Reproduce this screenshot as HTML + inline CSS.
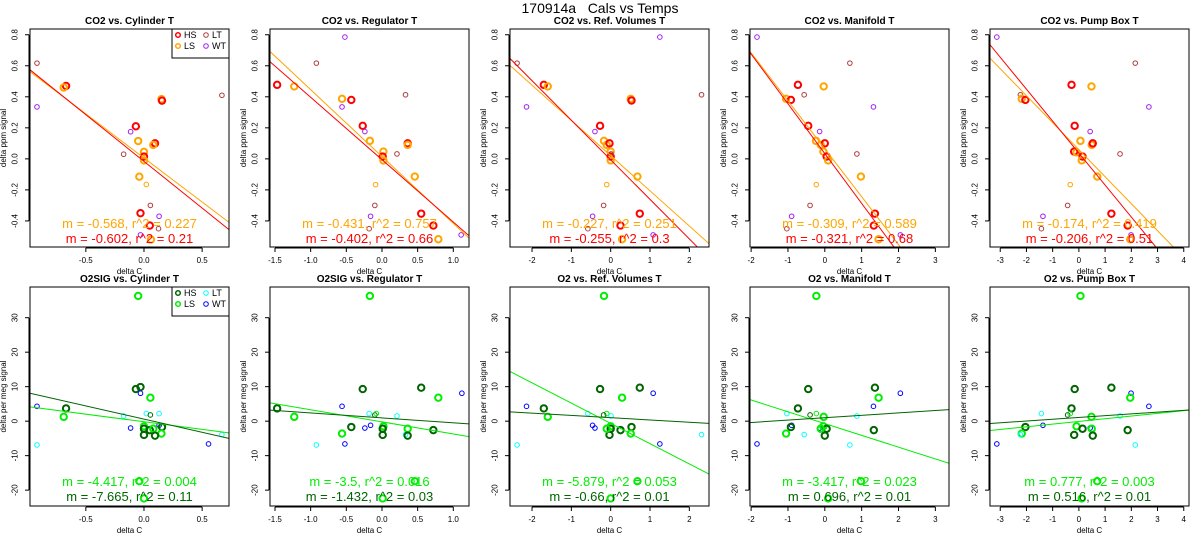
<!DOCTYPE html>
<html><head><meta charset="utf-8"><style>
html,body{margin:0;padding:0;background:#fff;}
svg{display:block;font-family:"Liberation Sans",sans-serif;}
</style></head><body>
<svg id="fig" width="1200" height="550" viewBox="0 0 1200 550">
<text x="600" y="13" text-anchor="middle" font-size="14" style="white-space:pre">170914a   Cals vs Temps</text>
</svg>
<script>
// ---- data ----
const topTitles = ["CO2 vs. Cylinder T","CO2 vs. Regulator T","CO2 vs. Ref. Volumes T","CO2 vs. Manifold T","CO2 vs. Pump Box T"];
const botTitles = ["O2SIG vs. Cylinder T","O2SIG vs. Regulator T","O2 vs. Ref. Volumes T","O2 vs. Manifold T","O2 vs. Pump Box T"];
const xRanges = [[-0.98,0.731],[-1.57,1.22],[-2.56,2.50],[-2.03,3.37],[-3.39,4.2]];
const xTicks = [[-0.5,0,0.5],[-1.5,-1,-0.5,0,0.5,1],[-2,-1,0,1,2],[-2,-1,0,1,2,3],[-3,-2,-1,0,1,2,3,4]];
const xTickLabels = [["-0.5","0.0","0.5"],["-1.5","-1.0","-0.5","0.0","0.5","1.0"],["-2","-1","0","1","2"],["-2","-1","0","1","2","3"],["-3","-2","-1","0","1","2","3","4"]];
const yRangeTop = [-0.568,0.837];
const yRangeBot = [-24.6,38.9];
const yTicksTop = [-0.4,-0.2,0,0.2,0.4,0.6,0.8];
const yTickLabelsTop = ["-0.4","-0.2","0.0","0.2","0.4","0.6","0.8"];
const yTicksBot = [-20,-10,0,10,20,30];
const yTickLabelsBot = ["-20","-10","0","10","20","30"];
// points: [x, y, group]; lowercase = thin marker
const co2Points = [
 [[-0.92,0.617,"LT"],[-0.67,0.47,"HS"],[-0.69,0.46,"LS"],[-0.92,0.335,"WT"],[0.67,0.41,"LT"],[0.15,0.385,"LS"],[0.155,0.375,"HS"],[-0.07,0.21,"HS"],[-0.115,0.175,"WT"],[-0.05,0.115,"LS"],[0.095,0.10,"HS"],[0.08,0.09,"LS"],[0,0.045,"LS"],[0,0.015,"HS"],[0,-0.01,"LS"],[-0.175,0.03,"LT"],[-0.04,-0.115,"LS"],[0.02,-0.165,"ls"],[0.055,-0.30,"LT"],[-0.03,-0.35,"HS"],[0.13,-0.37,"WT"],[0.05,-0.43,"HS"],[0.125,-0.45,"LT"],[-0.03,-0.49,"WT"],[0.06,-0.52,"LS"]],
 [[-0.52,0.785,"WT"],[-0.92,0.617,"LT"],[-1.47,0.477,"HS"],[-1.23,0.467,"LS"],[0.33,0.413,"LT"],[-0.56,0.387,"LS"],[-0.43,0.38,"HS"],[-0.56,0.335,"WT"],[-0.27,0.213,"HS"],[-0.24,0.176,"WT"],[-0.17,0.116,"LS"],[0.36,0.10,"HS"],[0.36,0.09,"LS"],[0.21,0.032,"LT"],[0.02,0.047,"LS"],[0.01,0.015,"HS"],[0.02,-0.01,"LS"],[0.46,-0.114,"LS"],[-0.09,-0.166,"ls"],[-0.1,-0.30,"LT"],[0.55,-0.353,"HS"],[-0.16,-0.37,"WT"],[0.72,-0.43,"HS"],[-0.18,-0.45,"LT"],[1.11,-0.49,"WT"],[0.79,-0.518,"LS"]],
 [[-2.38,0.617,"LT"],[1.25,0.785,"WT"],[-1.70,0.477,"HS"],[-1.6,0.467,"LS"],[-2.14,0.335,"WT"],[2.31,0.413,"LT"],[0.51,0.387,"LS"],[0.53,0.376,"HS"],[-0.27,0.213,"HS"],[-0.4,0.176,"WT"],[-0.17,0.116,"LS"],[-0.1,0.09,"LS"],[-0.03,0.10,"HS"],[0,0.047,"LS"],[0,0.015,"HS"],[0,-0.01,"LS"],[0.01,0.032,"LT"],[0.68,-0.114,"LS"],[-0.1,-0.166,"ls"],[-0.18,-0.30,"LT"],[0.74,-0.353,"HS"],[-0.46,-0.37,"WT"],[0.25,-0.43,"HS"],[-0.58,-0.45,"LT"],[1.08,-0.49,"WT"],[0.29,-0.518,"LS"]],
 [[-1.84,0.785,"WT"],[0.68,0.617,"LT"],[-0.73,0.477,"HS"],[-0.03,0.467,"LS"],[-0.56,0.413,"LT"],[-1.05,0.387,"LS"],[-0.92,0.38,"HS"],[1.32,0.335,"WT"],[-0.45,0.213,"HS"],[-0.14,0.176,"WT"],[-0.24,0.116,"LS"],[-0.11,0.09,"LS"],[0,0.10,"HS"],[-0.04,0.047,"LS"],[0.05,0.015,"HS"],[0.09,-0.01,"LS"],[0.87,0.032,"LT"],[0.98,-0.114,"LS"],[-0.23,-0.166,"ls"],[-0.4,-0.30,"LT"],[1.36,-0.353,"HS"],[-0.9,-0.37,"WT"],[1.33,-0.43,"HS"],[-1.03,-0.45,"LT"],[2.05,-0.49,"WT"],[1.46,-0.518,"LS"]],
 [[-3.13,0.785,"WT"],[2.15,0.617,"LT"],[-0.28,0.477,"HS"],[0.48,0.467,"LS"],[-2.23,0.413,"LT"],[-2.18,0.387,"LS"],[-2.04,0.38,"HS"],[2.67,0.335,"WT"],[-0.16,0.213,"HS"],[0.43,0.176,"WT"],[0.06,0.116,"LS"],[0.49,0.09,"LS"],[0.53,0.10,"HS"],[-0.18,0.047,"HS"],[-0.09,0.042,"LS"],[0.14,0.015,"HS"],[0.11,-0.01,"LS"],[1.57,0.032,"LT"],[0.7,-0.114,"LS"],[-0.33,-0.166,"ls"],[-0.43,-0.30,"LT"],[1.24,-0.353,"HS"],[-1.37,-0.37,"WT"],[1.86,-0.43,"HS"],[-1.43,-0.45,"LT"],[1.99,-0.49,"WT"],[1.96,-0.518,"LS"]]
];
const o2Points = [
 [[-0.05,36.3,"LS"],[-0.03,9.9,"HS"],[-0.07,9.3,"HS"],[-0.03,8.1,"WT"],[0.055,6.8,"LS"],[-0.92,4.3,"WT"],[-0.67,3.7,"HS"],[-0.69,1.25,"LS"],[-0.175,1.5,"LT"],[0.02,2.2,"LT"],[0.055,1.8,"hs"],[0.13,2.2,"LT"],[-0.115,-2.0,"WT"],[0.13,-1.2,"WT"],[0.155,-1.7,"HS"],[0.15,-3.6,"LS"],[0,-1.5,"LS"],[0,-2.2,"HS"],[0,-4.0,"HS"],[0.05,-2.6,"HS"],[0.08,-2.2,"LS"],[0.095,-4.2,"HS"],[-0.92,-6.9,"LT"],[0.555,-6.6,"WT"],[0.67,-3.9,"LT"],[-0.04,-17.4,"LS"],[0,-22.4,"LS"]],
 [[-0.17,36.3,"LS"],[-0.27,9.3,"HS"],[0.55,9.7,"HS"],[1.12,8.1,"WT"],[0.79,6.8,"LS"],[-0.56,4.3,"WT"],[-1.47,3.7,"HS"],[-1.23,1.25,"LS"],[-0.18,2.2,"LT"],[-0.1,1.8,"hs"],[-0.08,2.2,"ls"],[0.21,1.5,"LT"],[-0.43,-1.7,"HS"],[-0.24,-2.0,"WT"],[-0.16,-1.2,"WT"],[-0.56,-3.6,"LS"],[0.02,-1.5,"LS"],[0.01,-2.2,"HS"],[0.01,-4.0,"HS"],[0.36,-2.2,"LS"],[0.33,-3.9,"LT"],[0.36,-4.2,"HS"],[0.72,-2.6,"HS"],[-0.52,-6.6,"WT"],[-0.92,-6.9,"LT"],[0.46,-17.4,"LS"],[0.01,-22.4,"LS"]],
 [[-0.17,36.3,"LS"],[-0.27,9.3,"HS"],[0.74,9.7,"HS"],[1.08,8.1,"WT"],[0.29,6.8,"LS"],[-2.14,4.3,"WT"],[-1.7,3.7,"HS"],[-1.6,1.25,"LS"],[-0.58,2.2,"LT"],[-0.1,2.2,"ls"],[-0.18,1.8,"hs"],[0.01,1.5,"LT"],[-0.46,-1.2,"WT"],[-0.4,-2.0,"WT"],[0,-1.5,"LS"],[0,-2.2,"HS"],[-0.03,-4.0,"HS"],[-0.1,-2.2,"LS"],[0.25,-2.6,"HS"],[0.53,-1.7,"HS"],[0.51,-3.6,"LS"],[2.31,-3.9,"LT"],[1.25,-6.6,"WT"],[-2.38,-6.9,"LT"],[0.68,-17.4,"LS"],[0,-22.4,"LS"]],
 [[-0.23,36.3,"LS"],[-0.45,9.3,"HS"],[1.36,9.7,"HS"],[2.05,8.1,"WT"],[1.46,6.8,"LS"],[1.32,4.3,"WT"],[-0.73,3.7,"HS"],[-0.03,1.25,"LS"],[-1.03,2.2,"LT"],[-0.4,1.8,"hs"],[-0.23,2.2,"ls"],[0.87,1.5,"LT"],[-0.9,-1.2,"WT"],[-0.92,-1.7,"HS"],[-0.14,-2.0,"WT"],[-1.05,-3.6,"LS"],[-0.56,-3.9,"LT"],[-0.04,-1.5,"LS"],[0.05,-2.2,"HS"],[0,-4.2,"HS"],[-0.11,-2.2,"LS"],[1.33,-2.6,"HS"],[0.68,-6.9,"LT"],[-1.84,-6.6,"WT"],[0.98,-17.4,"LS"],[0.09,-22.4,"LS"]],
 [[0.06,36.3,"LS"],[-0.16,9.3,"HS"],[1.24,9.7,"HS"],[1.99,8.1,"WT"],[1.96,6.8,"LS"],[2.67,4.3,"WT"],[-0.28,3.7,"HS"],[0.48,1.25,"LS"],[-1.43,2.2,"LT"],[-0.43,1.8,"hs"],[-0.33,2.2,"ls"],[1.57,1.5,"LT"],[-1.37,-1.2,"WT"],[-2.04,-1.7,"HS"],[0.43,-2.0,"WT"],[-2.18,-3.6,"LS"],[-2.23,-3.9,"LT"],[-0.09,-1.5,"LS"],[0.14,-2.2,"HS"],[-0.18,-4.0,"HS"],[0.49,-2.2,"LS"],[0.53,-4.2,"HS"],[1.86,-2.6,"HS"],[2.15,-6.9,"LT"],[-3.13,-6.6,"WT"],[0.7,-17.4,"LS"],[0.11,-22.4,"LS"]]
];
// regression fits [slope, intercept]; labels
const co2FitLS = [[-0.568,0.006],[-0.431,0.015],[-0.227,0.021],[-0.309,0.065],[-0.174,0.059]];
const co2FitHS = [[-0.602,-0.016],[-0.402,-0.005],[-0.255,-0.006],[-0.321,0.034],[-0.206,0.037]];
const o2FitLS = [[-4.417,-0.18],[-3.5,-0.2],[-5.879,-0.65],[-3.417,-0.7],[0.777,-0.07]];
const o2FitHS = [[-7.665,0.59],[-1.432,0.95],[-0.66,1.0],[0.696,1.0],[0.516,1.07]];
const co2LabelLS = ["m = -0.568, r^2 = 0.227","m = -0.431, r^2 = 0.757","m = -0.227, r^2 = 0.251","m = -0.309, r^2 = 0.589","m = -0.174, r^2 = 0.419"];
const co2LabelHS = ["m = -0.602, r^2 = 0.21","m = -0.402, r^2 = 0.66","m = -0.255, r^2 = 0.3","m = -0.321, r^2 = 0.68","m = -0.206, r^2 = 0.51"];
const o2LabelLS = ["m = -4.417, r^2 = 0.004","m = -3.5, r^2 = 0.016","m = -5.879, r^2 = 0.053","m = -3.417, r^2 = 0.023","m = 0.777, r^2 = 0.003"];
const o2LabelHS = ["m = -7.665, r^2 = 0.11","m = -1.432, r^2 = 0.03","m = -0.66, r^2 = 0.01","m = 0.696, r^2 = 0.01","m = 0.516, r^2 = 0.01"];

const NS = "http://www.w3.org/2000/svg";
const svg = document.getElementById("fig");
function mk(tag, attrs, parent){ const e=document.createElementNS(NS,tag); for(const k in attrs) e.setAttribute(k,attrs[k]); (parent||svg).appendChild(e); return e; }

const colTop = {HS:"#ff0000",LS:"#ffa500",LT:"#b03c3c",WT:"#a020f0",hs:"#ff0000",ls:"#ffa500"};
const colBot = {HS:"#006400",LS:"#00ee00",LT:"#00ffff",WT:"#0000ff",hs:"#006400",ls:"#00ee00"};

function panel(k, row){
  const L=30+240*k, R=229+240*k;
  const T=row===0?29:287, B=row===0?247:506;
  const xr=xRanges[k], yr=row===0?yRangeTop:yRangeBot;
  const sx=v=>L+(v-xr[0])/(xr[1]-xr[0])*(R-L);
  const sy=v=>B-(v-yr[0])/(yr[1]-yr[0])*(B-T);
  const g=mk("g",{});
  
  
  const cols=row===0?colTop:colBot;
  const t=mk("text",{x:(L+R)/2,y:T-5,"text-anchor":"middle","font-size":"10","font-weight":"bold"},g);
  t.textContent=(row===0?topTitles:botTitles)[k];
  
  
  const cid="c"+row+k;
  const cp=mk("clipPath",{id:cid},g); mk("rect",{x:L,y:T,width:R-L,height:B-T},cp);
  const pts=(row===0?co2Points:o2Points)[k];
  const pg=mk("g",{"clip-path":"url(#"+cid+")"},g);
  pts.forEach(p=>{
    const thin = p[2]==="LT"||p[2]==="WT"||p[2]==="hs"||p[2]==="ls";
    const c=mk("circle",{cx:sx(p[0]),cy:sy(p[1]),r:thin?2.3:3.2,fill:"none",stroke:cols[p[2]],"stroke-width":thin?1:2},pg);
    
    
  });
  const fits=row===0?[co2FitLS[k],co2FitHS[k]]:[o2FitLS[k],o2FitHS[k]];
  const fcols=row===0?["#ffa500","#ff0000"]:["#00ee00","#006400"];
  fits.forEach((f,i)=>{
    const ln=mk("line",{x1:sx(xr[0]),y1:sy(f[0]*xr[0]+f[1]),x2:sx(xr[1]),y2:sy(f[0]*xr[1]+f[1]),stroke:fcols[i],"stroke-width":1},pg);
    
    
  });
  const labs=row===0?[co2LabelLS[k],co2LabelHS[k]]:[o2LabelLS[k],o2LabelHS[k]];
  labs.forEach((s,i)=>{
    const tx=mk("text",{x:(L+R)/2,y:(row===0?228:486)+i*15,"text-anchor":"middle","font-size":"13",fill:fcols[i]},g);
    tx.textContent=s;
    
    
  });
  const box=mk("rect",{x:L,y:T,width:R-L,height:B-T,fill:"none",stroke:"#000","stroke-width":1},g);
  
  
  const xt=xTicks[k];
  mk("line",{x1:sx(xt[0]),y1:B+1,x2:sx(xt[xt.length-1]),y2:B+1,stroke:"#000"},g);
  xt.forEach((v,i)=>{
    mk("line",{x1:sx(v),y1:B+1,x2:sx(v),y2:B+5,stroke:"#000"},g);
    const tl=mk("text",{x:sx(v),y:B+16,"text-anchor":"middle","font-size":"8"},g);
    tl.textContent=xTickLabels[k][i];
    
    
  });
  const xl=mk("text",{x:(L+R)/2,y:B+27,"text-anchor":"middle","font-size":"8"},g);
  xl.textContent="delta C";
  
  
  const yt=row===0?yTicksTop:yTicksBot, ytl=row===0?yTickLabelsTop:yTickLabelsBot;
  mk("line",{x1:L-1,y1:sy(yt[0]),x2:L-1,y2:sy(yt[yt.length-1]),stroke:"#000"},g);
  yt.forEach((v,i)=>{
    mk("line",{x1:L-5,y1:sy(v),x2:L-1,y2:sy(v),stroke:"#000"},g);
    const tl=mk("text",{x:L-15,y:sy(v),"text-anchor":"middle","dominant-baseline":"central","font-size":"8",transform:"rotate(-90 "+(L-15)+" "+sy(v)+")"},g);
    tl.textContent=ytl[i];
    
    
  });
  const yl=mk("text",{x:L-24,y:(T+B)/2,"text-anchor":"middle","font-size":"8",transform:"rotate(-90 "+(L-24)+" "+(T+B)/2+")"},g);
  yl.textContent=row===0?"delta ppm signal":"delta per meg signal";
  
  
  if(k===0){
    const lg=mk("g",{},g);
    
    
    mk("rect",{x:172,y:T,width:57,height:29,fill:"#fff",stroke:"#000"},lg);
    const ent=[["HS",178,T+9],["LS",178,T+20],["LT",206,T+9],["WT",206,T+20]];
    ent.forEach(e=>{
      const thin=e[0]==="LT"||e[0]==="WT";
      mk("circle",{cx:e[1],cy:e[2]-3,r:2.3,fill:"none",stroke:cols[e[0]],"stroke-width":thin?1:1.5},lg);
      const et=mk("text",{x:e[1]+6,y:e[2],"font-size":"9"},lg);
      et.textContent=e[0];
      
      
    });
  }
}
for(let k=0;k<5;k++){ panel(k,0); panel(k,1); }
</script>
</body></html>
